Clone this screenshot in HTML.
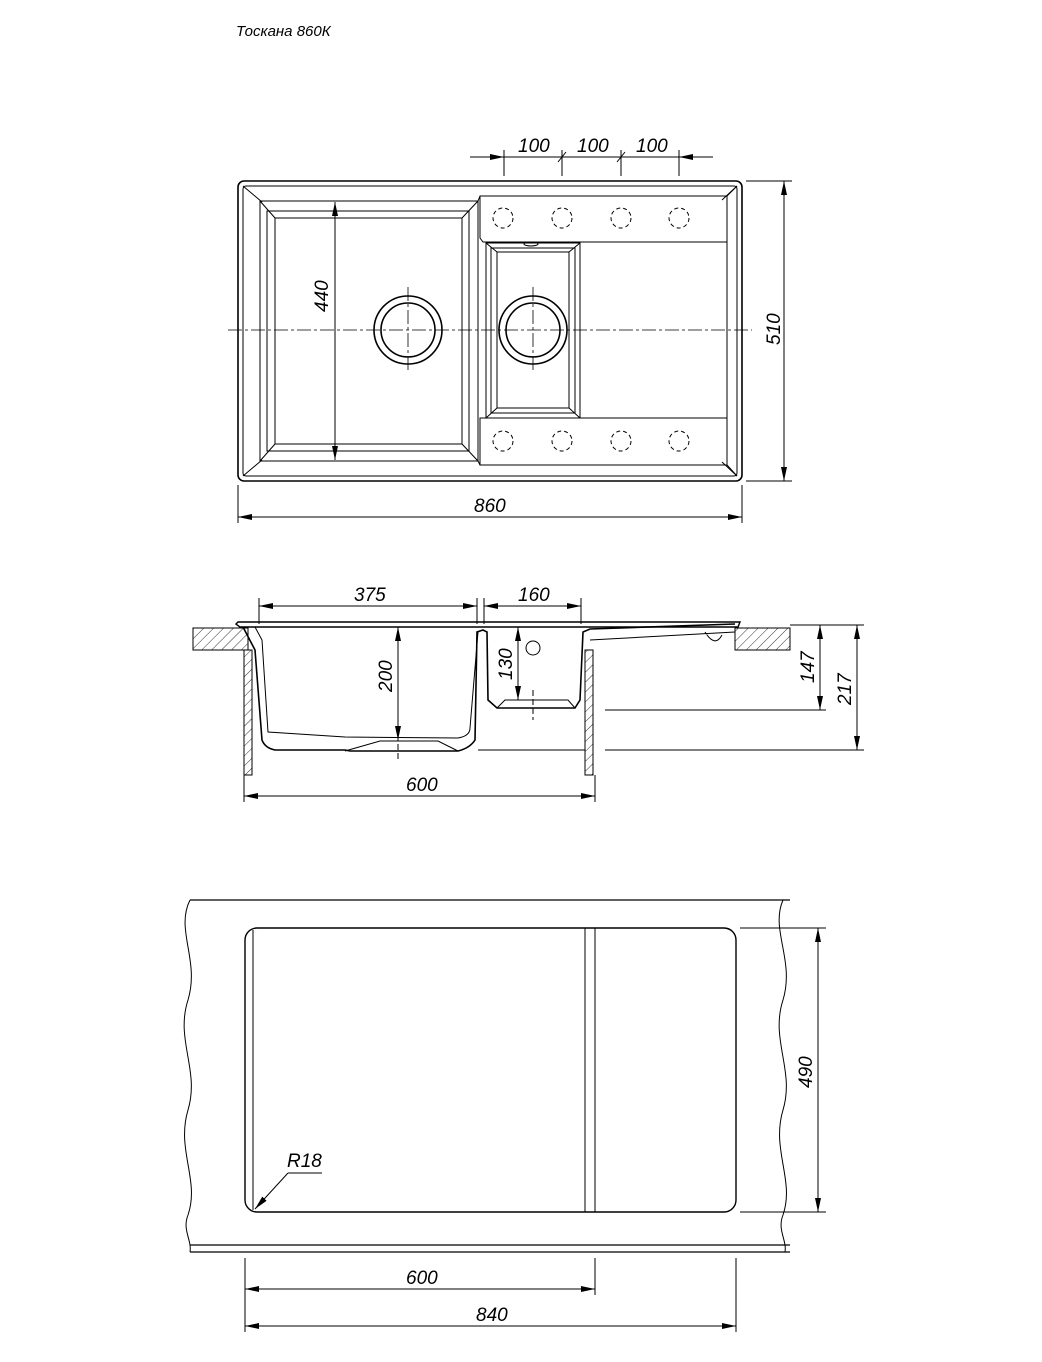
<!DOCTYPE html>
<html><head><meta charset="utf-8"><style>
html,body{margin:0;padding:0;background:#fff}
svg{display:block}
text{font-family:"Liberation Sans",sans-serif;font-style:italic;font-size:19px;fill:#000}
</style></head><body>
<svg width="1042" height="1362" viewBox="0 0 1042 1362" xmlns="http://www.w3.org/2000/svg">
<defs>
<marker id="a" markerWidth="14" markerHeight="6" refX="14" refY="3" orient="auto-start-reverse" markerUnits="userSpaceOnUse"><path d="M0,0 L14,3 L0,6 z" fill="#000"/></marker>
<pattern id="h" width="7" height="7" patternUnits="userSpaceOnUse" patternTransform="rotate(45)"><line x1="0" y1="0" x2="0" y2="7" stroke="#000" stroke-width="0.8"/></pattern>
</defs>
<text x="236" y="36" style="font-size:15px">Тоскана 860К</text>
<g fill="none" stroke="#000" stroke-width="1">
<!-- TOP VIEW -->
<rect x="238" y="181" width="504" height="300" rx="6" stroke-width="1.6"/>
<rect x="243" y="186" width="494" height="290" rx="3"/>
<path d="M243,186 L262,202 M737,186 L722,200 M243,476 L262,460 M737,476 L722,462"/>
<!-- left bowl -->
<rect x="260" y="201" width="218" height="260"/>
<rect x="267" y="211" width="202" height="240"/>
<rect x="275" y="218" width="187" height="226"/>
<path d="M260,201 L275,218 M478,201 L462,218 M260,461 L275,444 M478,461 L462,444"/>
<!-- right strips -->
<path d="M480,196 L727,196 L727,242 L483,242 L480,238 Z"/>
<path d="M480,418 L727,418 L727,465 L480,465 Z"/>
<path d="M478,201 L480,196 M478,461 L480,465 M727,196 L737,186 M727,465 L737,476 M727,242 L727,418"/>
<!-- small bowl -->
<rect x="486" y="243" width="94" height="175"/>
<rect x="491" y="248" width="84" height="165"/>
<rect x="497" y="252" width="72" height="156"/>
<path d="M486,243 L497,252 M580,243 L569,252 M486,418 L497,408 M580,418 L569,408"/>
<ellipse cx="531" cy="244" rx="7" ry="2"/>
<g stroke-dasharray="4,3">
<circle cx="503" cy="218" r="10"/><circle cx="562" cy="218" r="10"/><circle cx="621" cy="218" r="10"/><circle cx="679" cy="218" r="10"/>
<circle cx="503" cy="441" r="10"/><circle cx="562" cy="441" r="10"/><circle cx="621" cy="441" r="10"/><circle cx="679" cy="441" r="10"/>
</g>
<g stroke-width="1.6"><circle cx="408" cy="330" r="34"/><circle cx="408" cy="330" r="27"/><circle cx="533" cy="330" r="34"/><circle cx="533" cy="330" r="27"/></g>
<path d="M228,330 L752,330 M408,287 L408,373 M533,287 L533,373" stroke-dasharray="14,3,3,3" stroke-width="0.8"/>
<!-- dims top -->
<line x1="335" y1="202" x2="335" y2="460" marker-start="url(#a)" marker-end="url(#a)"/>
<path d="M746,181 L792,181 M746,481 L792,481"/>
<line x1="784" y1="181" x2="784" y2="481" marker-start="url(#a)" marker-end="url(#a)"/>
<path d="M238,485 L238,523 M742,485 L742,523"/>
<line x1="238" y1="517" x2="742" y2="517" marker-start="url(#a)" marker-end="url(#a)"/>
<path d="M504,150 L504,176 M562,150 L562,176 M621,150 L621,176 M679,150 L679,176"/>
<line x1="470" y1="157" x2="504" y2="157" marker-end="url(#a)"/>
<line x1="504" y1="157" x2="679" y2="157"/>
<line x1="713" y1="157" x2="679" y2="157" marker-end="url(#a)"/>
<path d="M558,162 L566,152 M617,162 L625,152"/>
<!-- SIDE VIEW -->
<rect x="193" y="628" width="55" height="22" fill="url(#h)"/>
<rect x="735" y="628" width="55" height="22" fill="url(#h)"/>
<rect x="244" y="650" width="8" height="125" fill="url(#h)"/>
<rect x="585" y="650" width="8" height="125" fill="url(#h)"/>
<path d="M236,624 L238,622 L740,622 L738,627 L240,627 Z" stroke-width="1.4"/>
<path d="M243,627 L255,650 L262,740 Q265,748 275,750 L345,750 L350,751 L458,751 Q470,748 475,740 L477,632 L483,630 L487,632 L488,700 L497,708 L575,708 L580,700 L583,632 L590,629 L735,624" stroke-width="1.6"/>
<path d="M255,627 L262,640 L268,732 L345,737 L458,738 Q470,736 470,728 L478,632"/>
<path d="M345,751 L380,741 L438,741 L458,751 M497,708 L505,700 L568,700 L575,708 M590,640 L735,632 M705,632 Q715,648 722,635"/>
<path d="M398,735 L398,760 M533,690 L533,720" stroke-dasharray="6,3"/>
<circle cx="533" cy="648" r="7"/>
<path d="M259,598 L259,624 M477,598 L477,624 M484,598 L484,624 M581,598 L581,624"/>
<line x1="259" y1="606" x2="477" y2="606" marker-start="url(#a)" marker-end="url(#a)"/>
<line x1="484" y1="606" x2="581" y2="606" marker-start="url(#a)" marker-end="url(#a)"/>
<line x1="398" y1="627" x2="398" y2="740" marker-start="url(#a)" marker-end="url(#a)"/>
<line x1="518" y1="627" x2="518" y2="700" marker-start="url(#a)" marker-end="url(#a)"/>
<path d="M605,710 L826,710 M605,750 L864,750 M790,625 L826,625 M790,625 L864,625 M478,750 L585,750"/>
<line x1="820" y1="625" x2="820" y2="710" marker-start="url(#a)" marker-end="url(#a)"/>
<line x1="857" y1="625" x2="857" y2="750" marker-start="url(#a)" marker-end="url(#a)"/>
<path d="M244,775 L244,802 M595,775 L595,802"/>
<line x1="244" y1="796" x2="595" y2="796" marker-start="url(#a)" marker-end="url(#a)"/>
<!-- BOTTOM VIEW -->
<path d="M190,900 L790,900 M190,1245 L790,1245 M190,1252 L790,1252" stroke-width="1.2"/>
<path d="M190,900 C175,930 200,960 188,1000 C175,1040 200,1070 188,1110 C176,1150 200,1180 188,1215 C182,1230 192,1240 190,1252"/>
<path d="M783,900 C770,930 795,960 783,1000 C770,1040 795,1070 783,1110 C771,1150 795,1180 783,1215 C777,1230 787,1240 785,1252"/>
<rect x="245" y="928" width="491" height="284" rx="12" stroke-width="1.4"/>
<path d="M253,930 L253,1210 M585,928 L585,1212 M595,928 L595,1212"/>
<path d="M740,928 L826,928 M740,1212 L826,1212"/>
<line x1="818" y1="928" x2="818" y2="1212" marker-start="url(#a)" marker-end="url(#a)"/>
<line x1="288" y1="1173" x2="255" y2="1209" marker-end="url(#a)"/>
<line x1="288" y1="1173" x2="322" y2="1173"/>
<path d="M245,1258 L245,1332 M595,1258 L595,1295 M736,1258 L736,1332"/>
<line x1="245" y1="1289" x2="595" y2="1289" marker-start="url(#a)" marker-end="url(#a)"/>
<line x1="245" y1="1326" x2="736" y2="1326" marker-start="url(#a)" marker-end="url(#a)"/>
</g>
<text x="518" y="152">100</text><text x="577" y="152">100</text><text x="636" y="152">100</text>
<text x="474" y="512">860</text>
<text transform="translate(328,312) rotate(-90)">440</text>
<text transform="translate(780,345) rotate(-90)">510</text>
<text x="354" y="601">375</text><text x="518" y="601">160</text>
<text transform="translate(392,692) rotate(-90)">200</text>
<text transform="translate(512,680) rotate(-90)">130</text>
<text transform="translate(814,683) rotate(-90)">147</text>
<text transform="translate(851,705) rotate(-90)">217</text>
<text x="406" y="791">600</text>
<text transform="translate(812,1088) rotate(-90)">490</text>
<text x="287" y="1167">R18</text>
<text x="406" y="1284">600</text>
<text x="476" y="1321">840</text>
</svg>
</body></html>
